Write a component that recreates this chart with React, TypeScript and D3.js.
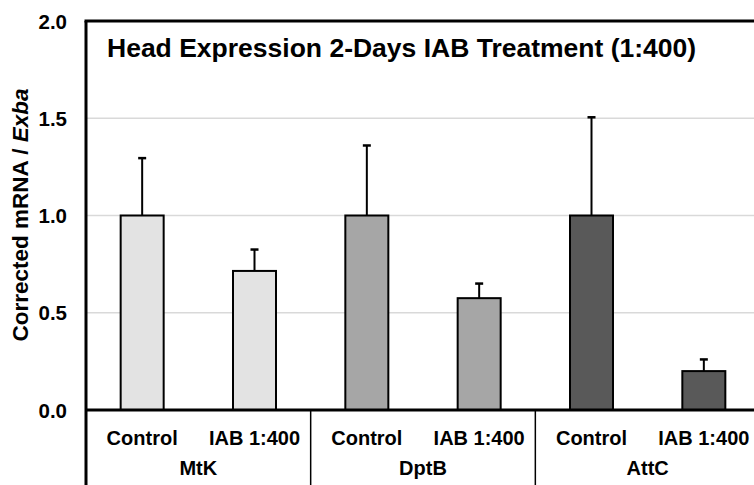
import React from "react";
import * as d3 from "d3";

// gene panels and treatment groups
const categories = ["MtK", "DptB", "AttC"];
const groups = ["Control", "IAB 1:400"];
const controlMeans = [1.0, 1.0, 1.0];
const controlErr = [0.295, 0.36, 0.505];
const iabMeans = [0.715, 0.575, 0.2];
const iabErr = [0.11, 0.075, 0.06];
const barColors = ["#e3e3e3", "#a6a6a6", "#595959"];
const yTicks = [0, 0.5, 1.0, 1.5, 2.0];

const W = 754;
const H = 485;
const FONT = "'Liberation Sans', Arial, sans-serif";

const App = () => {
  const margin = { top: 21, left: 86, right: -6, bottom: 75 };
  const plotRight = W - margin.right;
  const plotBottom = H - margin.bottom;

  const x = d3.scaleBand().domain(categories).range([margin.left, plotRight]);
  const xInner = d3.scaleBand().domain(groups).range([0, x.bandwidth()]);
  const barW = 43;
  const y = d3.scaleLinear().domain([0, 2]).range([plotBottom, margin.top]);

  const bars = categories.flatMap((c, i) => [
    { cat: c, grp: groups[0], v: controlMeans[i], e: controlErr[i], color: barColors[i] },
    { cat: c, grp: groups[1], v: iabMeans[i], e: iabErr[i], color: barColors[i] },
  ]);

  const cx = (d) => x(d.cat) + xInner(d.grp) + xInner.bandwidth() / 2;

  return (
    <svg
      width={W}
      height={H}
      style={{ position: "absolute", left: 0, top: 0, background: "#fff" }}
      fontFamily={FONT}
    >
      {/* grid lines */}
      {yTicks.slice(1).map((t) => (
        <line key={t} x1={margin.left} x2={plotRight} y1={y(t)} y2={y(t)} stroke="#d9d9d9" strokeWidth={1.5} />
      ))}

      {/* bars */}
      {bars.map((d, i) => (
        <rect
          key={i}
          x={cx(d) - barW / 2}
          y={y(d.v)}
          width={barW}
          height={y(0) - y(d.v)}
          fill={d.color}
          stroke="#000"
          strokeWidth={2}
        />
      ))}

      {/* error bars (upper only) */}
      {bars.map((d, i) => (
        <g key={"e" + i} stroke="#000">
          <line x1={cx(d)} x2={cx(d)} y1={y(d.v)} y2={y(d.v + d.e)} strokeWidth={2} />
          <line x1={cx(d) - 4} x2={cx(d) + 4} y1={y(d.v + d.e)} y2={y(d.v + d.e)} strokeWidth={2.5} />
        </g>
      ))}

      {/* plot frame */}
      <line x1={margin.left - 1.5} x2={plotRight} y1={margin.top} y2={margin.top} stroke="#000" strokeWidth={3} />
      <line x1={margin.left} x2={margin.left} y1={margin.top} y2={H} stroke="#000" strokeWidth={3} />
      <line x1={margin.left} x2={plotRight} y1={plotBottom} y2={plotBottom} stroke="#000" strokeWidth={3} />

      {/* category separators */}
      {categories.slice(1).map((c) => (
        <line key={c} x1={x(c)} x2={x(c)} y1={plotBottom} y2={H} stroke="#000" strokeWidth={1.5} />
      ))}

      {/* y tick labels */}
      {yTicks.map((t) => (
        <text
          key={t}
          x={67}
          y={y(t)}
          textAnchor="end"
          dominantBaseline="central"
          fontSize={20.5}
          fontWeight="bold"
        >
          {d3.format(".1f")(t)}
        </text>
      ))}

      {/* group labels */}
      {bars.map((d, i) => (
        <text key={"g" + i} x={cx(d)} y={445} textAnchor="middle" fontSize={20} fontWeight="bold">
          {d.grp}
        </text>
      ))}

      {/* category labels */}
      {categories.map((c) => (
        <text key={c} x={x(c) + x.bandwidth() / 2} y={475} textAnchor="middle" fontSize={20} fontWeight="bold">
          {c}
        </text>
      ))}

      {/* y axis title */}
      <text
        transform={`translate(28, 215) rotate(-90)`}
        textAnchor="middle"
        fontSize={22.5}
        fontWeight="bold"
      >
        Corrected mRNA / <tspan fontStyle="italic">Exba</tspan>
      </text>

      {/* chart title */}
      <text x={107} y={57} fontSize={26.5} fontWeight="bold">
        Head Expression 2-Days IAB Treatment (1:400)
      </text>
    </svg>
  );
};

export default App;
